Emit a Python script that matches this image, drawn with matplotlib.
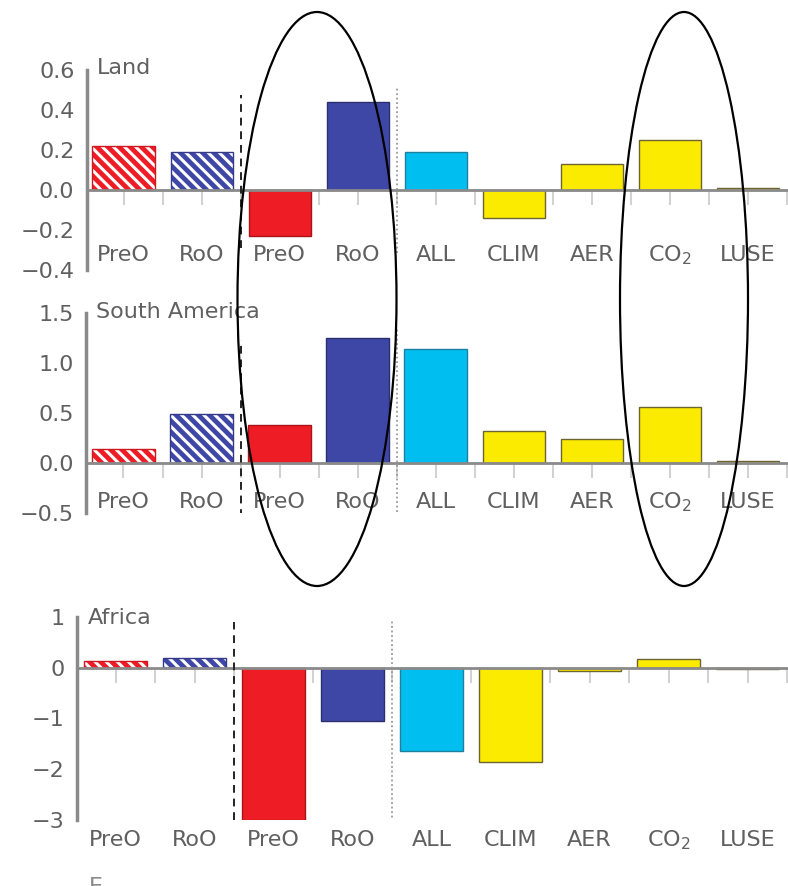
import numpy as np
import matplotlib.pyplot as plt
from matplotlib.patches import Ellipse
from matplotlib.transforms import blended_transform_factory

plt.rcParams['font.family'] = ['DejaVu Sans']
plt.rcParams['mathtext.default'] = 'regular'
plt.rcParams['hatch.linewidth'] = 2.2

# categories along the x axis (hatched pair, solid pair, then the drivers)
categories = ['PreO', 'RoO', 'PreO', 'RoO', 'ALL', 'CLIM', 'AER', 'CO$_2$', 'LUSE']
hatched = [True, True, False, False, False, False, False, False, False]

land = [0.22, 0.19, -0.23, 0.44, 0.19, -0.14, 0.13, 0.25, 0.01]
south_america = [0.14, 0.49, 0.38, 1.25, 1.14, 0.32, 0.24, 0.56, 0.02]
africa = [0.14, 0.20, -3.0, -1.04, -1.65, -1.85, -0.07, 0.17, -0.03]

land_yticks = [-0.4, -0.2, 0.0, 0.2, 0.4, 0.6]
land_yticklabels = ['\u22120.4', '\u22120.2', '0.0', '0.2', '0.4', '0.6']
sa_yticks = [-0.5, 0.0, 0.5, 1.0, 1.5]
sa_yticklabels = ['\u22120.5', '0.0', '0.5', '1.0', '1.5']
africa_yticks = [-3, -2, -1, 0, 1]
africa_yticklabels = ['\u22123', '\u22122', '\u22121', '0', '1']

RED = '#ee1c25'
BLUE = '#3f47a6'
CYAN = '#00bff0'
YELLOW = '#fbeb00'
fills = [RED, BLUE, RED, BLUE, CYAN, YELLOW, YELLOW, YELLOW, YELLOW]
edges = ['#d0161e', '#34398a', '#a8141a', '#2a2f70', '#1f7fa0',
         '#6d6530', '#6d6530', '#6d6530', '#6d6530']

GREY = '#8a8a8a'
TEXT = '#606060'
FS = 16


def draw_panel(ax, values, title, yticks, yticklabels, xlim, label_y,
               title_xy, dash_span, dot_span):
    x = np.arange(len(values))
    width = 0.8
    for i, v in enumerate(values):
        if hatched[i]:
            ax.bar(x[i], v, width, color=fills[i], edgecolor='white',
                   hatch='\\\\\\', linewidth=0, zorder=2)
            ax.bar(x[i], v, width, fill=False, edgecolor=edges[i],
                   linewidth=1.0, zorder=2)
        else:
            ax.bar(x[i], v, width, color=fills[i], edgecolor=edges[i],
                   linewidth=1.0, zorder=2)

    ax.set_xlim(*xlim)
    ax.set_ylim(yticks[0], yticks[-1])
    ax.set_yticks(yticks)
    ax.set_yticklabels(yticklabels)

    for s in ('top', 'right'):
        ax.spines[s].set_visible(False)
    ax.spines['left'].set_color(GREY)
    ax.spines['left'].set_linewidth(2.5)
    ax.spines['bottom'].set_position(('data', 0))
    ax.spines['bottom'].set_color(GREY)
    ax.spines['bottom'].set_linewidth(2.0)

    ax.set_xticks(x)
    ax.set_xticks(x + 0.5, minor=True)
    ax.tick_params(axis='x', which='both', direction='out', length=11,
                   width=1.5, color='#d2d2d2', labelbottom=False)
    ax.tick_params(axis='y', length=0, pad=9, labelsize=FS, labelcolor=TEXT)

    trans = blended_transform_factory(ax.transData, ax.transAxes)
    for xi, lab in zip(x, categories):
        ax.text(xi, label_y, lab, transform=trans, ha='center', va='center',
                fontsize=FS, color=TEXT)

    # separators between the hatched, solid and driver groups
    ax.axvline(1.5, ymin=dash_span[0], ymax=dash_span[1], color='#222222',
               linestyle=(0, (4, 3)), linewidth=1.4, zorder=3)
    ax.axvline(3.5, ymin=dot_span[0], ymax=dot_span[1], color='#9a9a9a',
               linestyle=(0, (1, 1.5)), linewidth=1.3, zorder=3)

    ax.text(title_xy[0], title_xy[1], title, transform=ax.transAxes,
            ha='left', va='center', fontsize=FS, color=TEXT)


fig = plt.figure(figsize=(7.88, 8.86), dpi=100)
W, H = 788, 886

ax1 = fig.add_axes([87 / W, 1 - 270 / H, 700 / W, 200 / H])
draw_panel(ax1, land, 'Land', land_yticks, land_yticklabels,
           (-0.47, 8.5), 0.075, (0.014, 1.01), (0.11, 0.875), (0.085, 0.91))

ax2 = fig.add_axes([86 / W, 1 - 513 / H, 701 / W, 200 / H])
draw_panel(ax2, south_america, 'South America', sa_yticks, sa_yticklabels,
           (-0.48, 8.5), 0.055, (0.014, 1.005), (-0.02, 0.865), (-0.04, 0.92))

ax3 = fig.add_axes([77 / W, 1 - 820 / H, 710 / W, 203 / H])
draw_panel(ax3, africa, 'Africa', africa_yticks, africa_yticklabels,
           (-0.49, 8.5), -0.10, (0.015, 0.995), (0.0, 0.975), (-0.01, 0.99))

# highlight ellipses
for cx, w in ((317, 159), (684, 128)):
    fig.add_artist(Ellipse((cx / W, 1 - 299 / H), w / W, 574 / H,
                           transform=fig.transFigure, fill=False,
                           edgecolor='black', linewidth=1.6, zorder=10))

# top of the next panel's label, cut off by the lower edge
fig.text(89 / W, 1 - 877 / H, 'E', ha='left', va='top', fontsize=FS,
         color='#8a8a8a')

fig.savefig('out.png', dpi=100)
